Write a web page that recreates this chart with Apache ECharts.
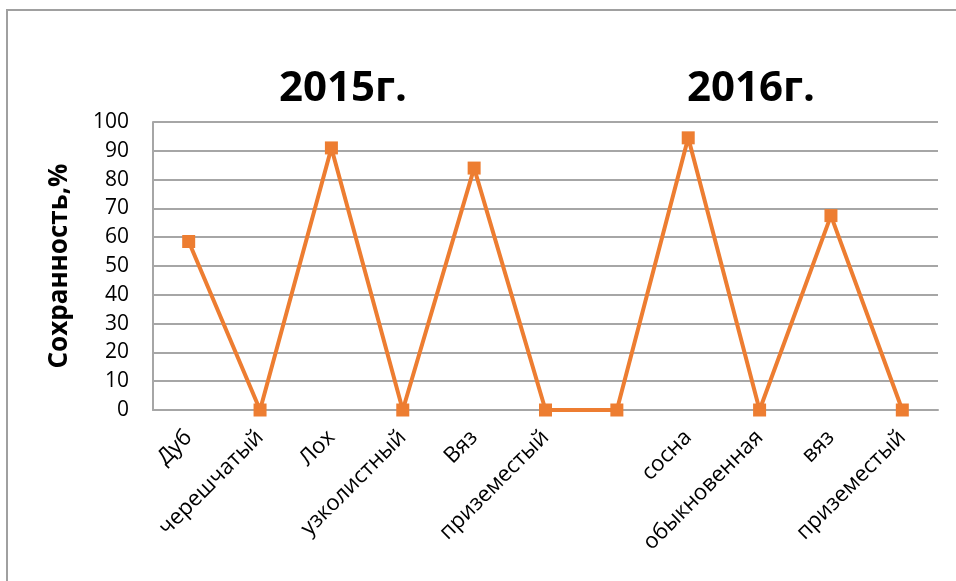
<!DOCTYPE html>
<html>
<head>
<meta charset="utf-8">
<script src="https://cdn.jsdelivr.net/npm/echarts@6/dist/echarts.min.js"></script>
<style>
html,body{margin:0;padding:0;background:#fff;}
#chart{width:956px;height:581px;}
</style>
</head>
<body>
<div id="chart"></div>
<script>
var categories = ['Дуб','черешчатый','Лох','узколистный','Вяз','приземестый','','сосна','обыкновенная','вяз','приземестый'];
var values = [58.5, 0, 91, 0, 84, 0, 0, 94.5, 0, 67.5, 0];
var yTicks = {min: 0, max: 100, interval: 10};
var titles = ['2015г.', '2016г.'];
var yName = 'Сохранность,%';

var chart = echarts.init(document.getElementById('chart'), null, {renderer: 'canvas'});
var font = "'Open Sans', 'Noto Sans', sans-serif";
chart.setOption({
  animation: false,
  backgroundColor: '#fff',
  graphic: [
    {type: 'rect', shape: {x: 7, y: 10, width: 1000, height: 700}, style: {fill: 'none', stroke: '#a0a0a0', lineWidth: 2}, silent: true},
    {type: 'text', x: 343, y: 89, style: {text: titles[0], font: "bold 42px " + font, fill: '#000', textAlign: 'center', textVerticalAlign: 'middle'}},
    {type: 'text', x: 751, y: 89, style: {text: titles[1], font: "bold 42px " + font, fill: '#000', textAlign: 'center', textVerticalAlign: 'middle'}}
  ],
  grid: {left: 153, right: 18, top: 122, bottom: 171},
  xAxis: {
    type: 'category',
    data: categories,
    boundaryGap: true,
    axisLine: {lineStyle: {color: '#a6a6a6', width: 2}},
    axisTick: {show: false},
    axisLabel: {rotate: 45, interval: 0, color: '#000', fontSize: 22, fontFamily: font, margin: 24}
  },
  yAxis: {
    type: 'value',
    min: yTicks.min, max: yTicks.max, interval: yTicks.interval,
    name: yName,
    nameLocation: 'middle',
    nameGap: 80,
    nameTextStyle: {fontSize: 26, fontWeight: 'bold', color: '#000', fontFamily: font},
    axisLine: {show: true, lineStyle: {color: '#a6a6a6', width: 2}},
    axisTick: {show: false},
    axisLabel: {color: '#000', fontSize: 21, fontFamily: font, margin: 24},
    splitLine: {lineStyle: {color: '#a6a6a6', width: 2}}
  },
  series: [{
    type: 'line',
    data: values,
    symbol: 'rect',
    symbolSize: 13,
    lineStyle: {color: '#ED7D31', width: 4},
    itemStyle: {color: '#ED7D31'}
  }]
});
</script>
</body>
</html>
